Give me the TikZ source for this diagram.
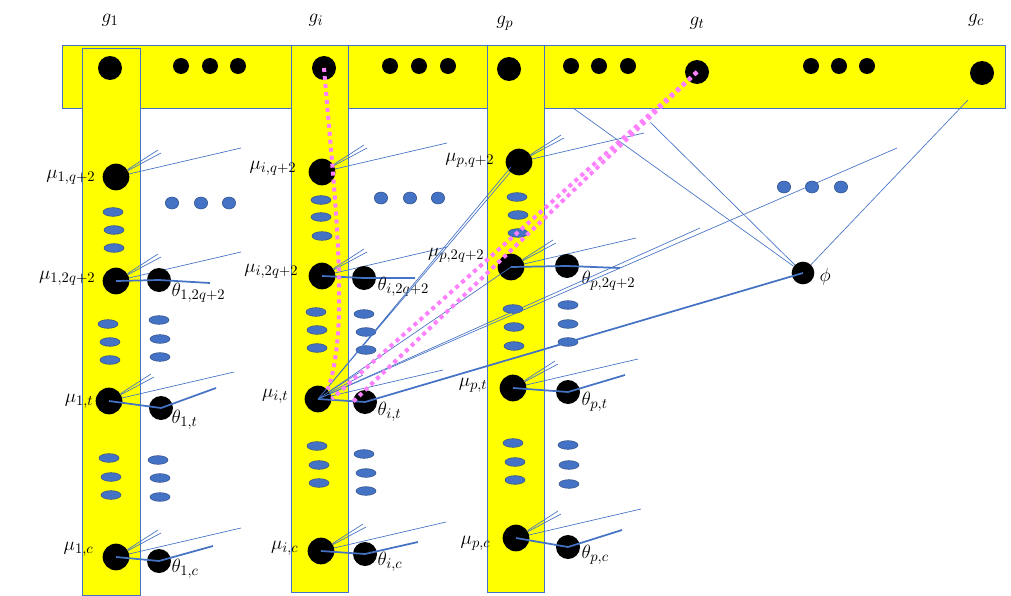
\documentclass[tikz,border=0pt]{standalone}
\usetikzlibrary{calc,shapes.geometric}
\definecolor{yel}{RGB}{255,255,0}
\definecolor{bl}{RGB}{68,114,196}
\definecolor{pk}{RGB}{255,128,255}
\begin{document}
\begin{tikzpicture}[x=0.75pt,y=-0.75pt,
  bar/.style={fill=yel,draw=bl,line width=0.6pt},
  big/.style={circle,fill=black,inner sep=0pt,minimum size=18pt},
  med/.style={circle,fill=black,inner sep=0pt,minimum size=12pt},
  ov/.style={ellipse,fill=bl,draw=bl!70!black,inner sep=0pt,minimum width=15pt,minimum height=6.5pt},
  rd/.style={ellipse,fill=bl,draw=bl!70!black,inner sep=0pt,minimum width=10pt,minimum height=9pt},
  thin/.style={draw=bl,line width=0.5pt},
  thk/.style={draw=bl,line width=1.3pt},
  pinkd/.style={draw=pk,line width=3pt,dash pattern=on 3pt off 3pt},
  lab/.style={font=\fontsize{15}{17}\selectfont,inner sep=1pt}]
\useasboundingbox (0,0) rectangle (1011,596);
% bars
\draw[bar] (62,45) rectangle (1005,108);
\draw[bar] (82,48) rectangle (140,595);
\draw[bar] (291,45) rectangle (348,592);
\draw[bar] (487,45) rectangle (544,592);
\draw[draw=bl,line width=0.6pt] (62,108) -- (82,108) (140,108) -- (291,108) (348,108) -- (487,108) (544,108) -- (1005,108);
% top nodes
\node[big] (g1) at (110,68) {};
\node[big] (gi) at (324,68) {};
\node[big] (gp) at (509,69) {};
\node[big] (gt) at (697,72) {};
\node[big] (gc) at (982,73) {};
\foreach \x/\n in {181/a,210/b,238/c,390/d,419/e,448/f,571/g,599/h,628/i,811/j,839/k,867/l}
  \node[med] (s\n) at (\x,66) {};
\node[lab] (lg1) at (110,20) {$g_1$};
\node[lab] (lgi) at (316,20) {$g_i$};
\node[lab] (lgp) at (505,23) {$g_p$};
\node[lab] (lgt) at (697,23) {$g_t$};
\node[lab] (lgc) at (976,20) {$g_c$};
% mu nodes
\foreach \n/\x/\y in {m1a/116/177,m1b/116/281,m1c/109/401,m1d/116/557,
  mia/322/172,mib/322/276,mic/318/399,mid/321/551,
  mpa/519/162,mpb/511/267,mpc/513/388,mpd/516/538}
  {\node[big,minimum size=20pt] (\n) at (\x,\y) {};
   \coordinate (\n f1) at (\x+42,\y-27);
   \coordinate (\n f2) at (\x+45,\y-24);
   \coordinate (\n f3) at (\x+125,\y-29);
   \draw[thin] (\n) -- (\n f1) (\n) -- (\n f2) (\n) -- (\n f3);}
% theta nodes
\foreach \n/\x/\y/\m/\ex/\ey in {t1b/159/280/m1b/210/283,t1c/161/408/m1c/216/388,t1d/159/561/m1d/213/546,
  tib/364/278/mib/415/278,tic/365/402/mic/0/0,tid/365/554/mid/418/542,
  tpb/567/266/mpb/620/268,tpc/568/392/mpc/625/375,tpd/568/547/mpd/622/530}
  {\node[big] (\n) at (\x,\y) {};
   \draw[thk] (\m.center) -- (\n.center);
   \ifnum\ex>0 \coordinate (\n e) at (\ex,\ey); \draw[thk] (\n.center) -- (\n e);\fi}
% labels
\node[lab,anchor=east] at (97,177) {$\mu_{1,q+2}$};
\node[lab,anchor=east] at (97,278) {$\mu_{1,2q+2}$};
\node[lab,anchor=east] at (95,401) {$\mu_{1,t}$};
\node[lab,anchor=east] at (95,549) {$\mu_{1,c}$};
\node[lab,anchor=east] at (298,168) {$\mu_{i,q+2}$};
\node[lab,anchor=east] at (300,271) {$\mu_{i,2q+2}$};
\node[lab,anchor=east] at (290,396) {$\mu_{i,t}$};
\node[lab,anchor=east] at (300,548) {$\mu_{i,c}$};
\node[lab,anchor=east] at (496,160) {$\mu_{p,q+2}$};
\node[lab,anchor=east] at (486,255) {$\mu_{p,2q+2}$};
\node[lab,anchor=east] at (489,385) {$\mu_{p,t}$};
\node[lab,anchor=east] at (492,543) {$\mu_{p,c}$};
\node[lab,anchor=west] at (170,293) {$\theta_{1,2q+2}$};
\node[lab,anchor=west] at (170,420) {$\theta_{1,t}$};
\node[lab,anchor=west] at (170,569) {$\theta_{1,c}$};
\node[lab,anchor=west] at (376,287) {$\theta_{i,2q+2}$};
\node[lab,anchor=west] at (376,412) {$\theta_{i,t}$};
\node[lab,anchor=west] at (376,562) {$\theta_{i,c}$};
\node[lab,anchor=west] at (580,281) {$\theta_{p,2q+2}$};
\node[lab,anchor=west] at (580,402) {$\theta_{p,t}$};
\node[lab,anchor=west] at (580,555) {$\theta_{p,c}$};
% ellipses
\foreach \x/\y [count=\k] in {113/212,114/230,114/248,108/324,110/342,110/360,159/320,160/339,160/357,
  109/458,111/477,111/495,158/460,160/478,160/497,
  321/200,321/217,322/236,316/312,317/330,317/348,364/314,366/332,366/350,
  317/446,319/465,319/483,364/454,366/473,366/491,
  517/197,518/215,518/233,513/309,514/327,514/346,568/305,568/324,568/342,
  513/443,515/462,515/480,568/445,569/465,569/484}
  \node[ov] (e\k) at (\x,\y) {};
\foreach \x/\y [count=\k] in {172/203,201/203,229/203,381/198,410/198,438/198,784/187,812/187,841/187}
  \node[rd] (r\k) at (\x,\y) {};
% phi
\node[big,minimum size=17pt] (phi) at (803,273) {};
\node[lab,anchor=west] (lphi) at (818,277) {$\phi$};
% long lines
\coordinate (c1) at (573,108);
\coordinate (c2) at (650,122);
\coordinate (c3) at (968,100);
\coordinate (c4) at (897,148);
\coordinate (c5) at (700,228);
\draw[thin] (c1) -- (phi) (c2) -- (phi) (c3) -- (phi);
\draw[thk] (tic.center) -- (phi.center);
\draw[thin] (mic.center) -- (mpa) (mic.center) -- ($(mpa)+(-8,5)$);
\draw[thin] (mic.center) -- (c4);
\draw[thin] (mic.center) -- (c5);
\draw[thin] (mic.center) -- (mpb.center);
% pink dotted
\draw[pinkd] (gi.center) .. controls (335,200) and (350,330) .. (mic.north east);
\draw[pinkd] (gt.center) -- (mic.east);
\draw[pinkd] (gt.center) -- (tic.west);
\end{tikzpicture}
\end{document}
